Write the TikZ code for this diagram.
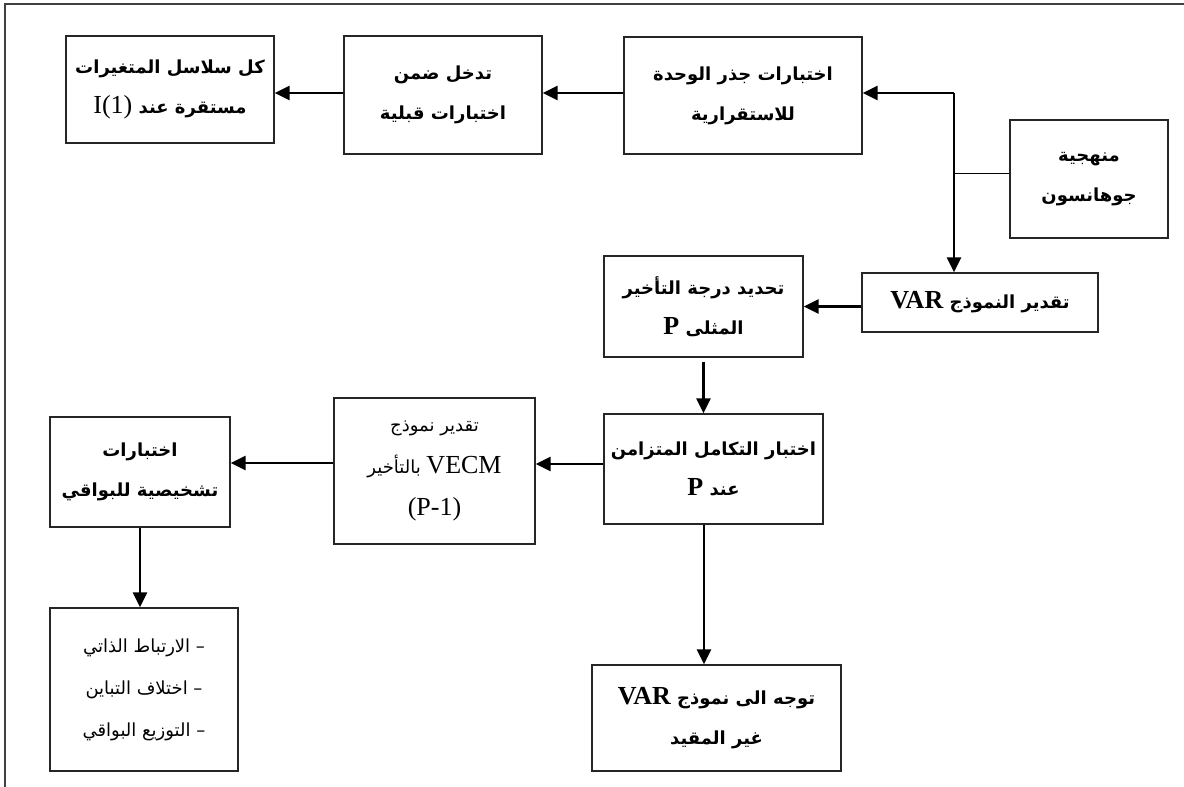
\documentclass[tikz,border=0pt]{standalone}
\usepackage{fontspec}
\setmainfont{Liberation Serif}
\newfontfamily\arabicfont[Script=Arabic]{DejaVu Sans}
\newfontfamily\latinfont{Liberation Serif}
\TeXXeTstate=1
\usetikzlibrary{arrows.meta}
\newcommand{\artxt}[1]{{\arabicfont\beginR #1\endR}}
\newcommand{\lt}[1]{\beginL{\latinfont\fontsize{26}{40}\selectfont #1}\endL}
\tikzset{
  box/.style={draw=black!85, line width=1.4pt, inner sep=0pt, align=center,
    font=\bfseries\fontsize{18}{40}\selectfont},
  regbox/.style={box, font=\mdseries\fontsize{18}{42}\selectfont},
  arr/.style={line width=2.8pt, -{Triangle[length=15pt,width=14pt]}},
  thinln/.style={line width=1pt}
}
\begin{document}
\begin{tikzpicture}[x=1pt,y=-1pt]
\useasboundingbox (0,0) rectangle (1184,787);
\draw[line width=1.5pt, black!75] (5,787) -- (5,4) -- (1184,4);

\node[box, minimum width=208pt, minimum height=107pt] (b1) at (170,89.5)
  {\artxt{كل سلاسل المتغيرات}\\ \artxt{مستقرة عند {\mdseries\lt{I(1)}}}};
\node[box, minimum width=198pt, minimum height=118pt] (b2) at (443,95)
  {\artxt{تدخل ضمن}\\ \artxt{اختبارات قبلية}};
\node[box, minimum width=238pt, minimum height=117pt] (b3) at (743,95.5)
  {\artxt{اختبارات جذر الوحدة}\\ \artxt{للاستقرارية}};
\node[box, minimum width=158pt, minimum height=118pt] (b4) at (1089,179)
  {\artxt{منهجية}\\ \artxt{جوهانسون}};
\node[box, minimum width=236pt, minimum height=59pt] (var) at (980,302.5)
  {\artxt{تقدير النموذج \lt{VAR}}};
\node[box, minimum width=199pt, minimum height=101pt] (p) at (703.5,306.5)
  {\artxt{تحديد درجة التأخير}\\ \artxt{المثلى \lt{P}}};
\node[box, minimum width=219pt, minimum height=110pt] (coint) at (713.5,469)
  {\artxt{اختبار التكامل المتزامن}\\ \artxt{عند \lt{P}}};
\node[box, minimum width=249pt, minimum height=106pt] (tow) at (716.5,718)
  {\artxt{توجه الى نموذج \lt{VAR}}\\ \artxt{غير المقيد}};
\node[regbox, minimum width=201pt, minimum height=146pt] (vecm) at (434.5,471)
  {\artxt{تقدير نموذج}\\ \artxt{\lt{VECM} بالتأخير}\\ \lt{(P-1)}};
\node[box, minimum width=180pt, minimum height=110pt] (diag) at (140,472)
  {\artxt{اختبارات}\\ \artxt{تشخيصية للبواقي}};
\node[regbox, minimum width=188pt, minimum height=163pt] (list) at (144,689.5)
  {\artxt{– الارتباط الذاتي}\\ \artxt{– اختلاف التباين}\\ \artxt{– التوزيع البواقي}};

\coordinate (j1) at (954,93);
\coordinate (j2) at (954,173);
\draw[arr] (j1) -- (j1 -| b3.east);
\draw[arr] (j1) -- (j1 |- var.north);
\draw[thinln] (j2 -| b4.west) -- (j2);
\draw[arr] (j1 -| b3.west) -- (j1 -| b2.east);
\draw[arr] (j1 -| b2.west) -- (j1 -| b1.east);
\draw[arr] (var.west |- p.east) -- (p.east);
\draw[arr] ([yshift=-4pt]p.south) -- (p.south |- coint.north);
\draw[arr] ([yshift=5pt]coint.west) -- ([yshift=5pt]coint.west -| vecm.east);
\draw[arr] ([yshift=8pt]vecm.west) -- ([yshift=8pt]vecm.west -| diag.east);
\draw[arr] (diag.south) -- (diag.south |- list.north);
\draw[arr] ([xshift=-9.5pt]coint.south) -- ([xshift=-9.5pt]coint.south |- tow.north);
\end{tikzpicture}
\end{document}
